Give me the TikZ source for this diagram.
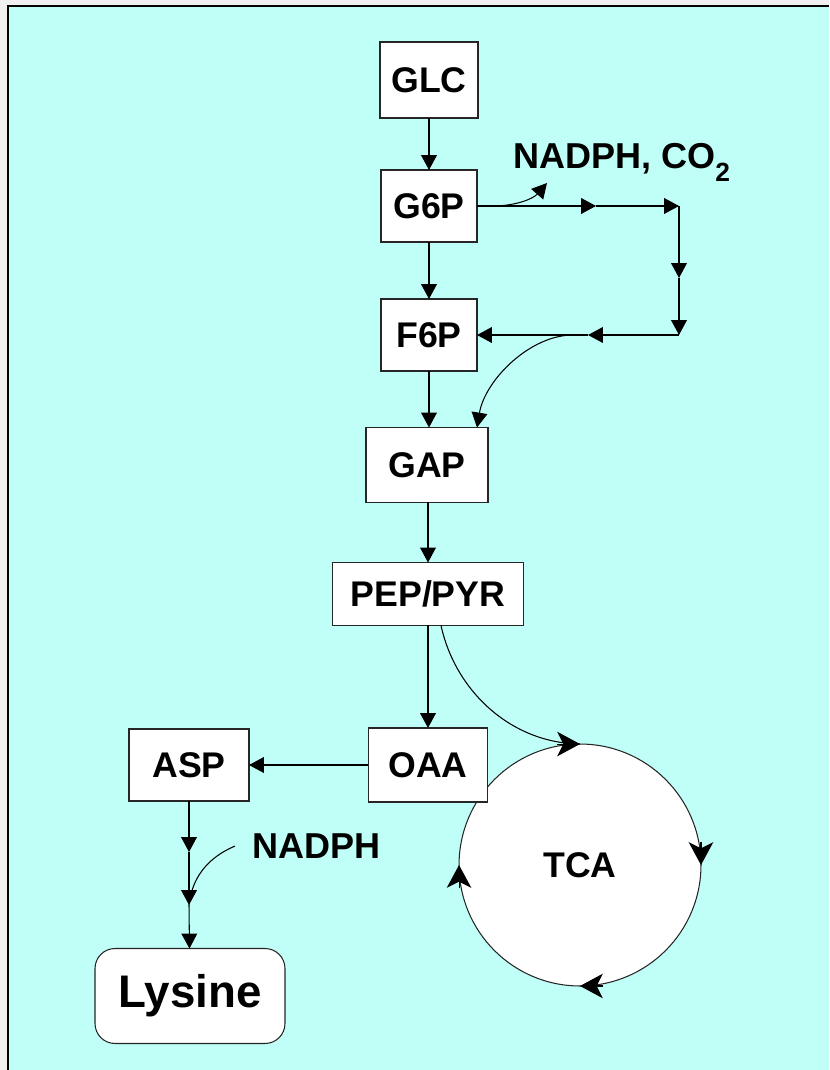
\documentclass[tikz,border=0pt]{standalone}
\usepackage{fontspec}
\setmainfont{Liberation Sans}
\usetikzlibrary{arrows.meta}
\definecolor{bgcyan}{RGB}{191,255,247}
\tikzset{
  met/.style={draw=black!85, fill=white, line width=0.6pt, inner sep=0pt, outer sep=0pt,
              font=\fontsize{20.3}{24}\selectfont\bfseries},
  prod/.style={met, rounded corners=0.4cm, font=\fontsize{26}{30}\selectfont\bfseries},
  cyc/.style={circle, met, minimum size=4.84cm},
  flux/.style={line width=0.6pt, -{Triangle[length=8.5pt,width=9pt]}},
  turn/.style={line width=0.6pt, -{Stealth[length=13pt,width=14pt,inset=3.5pt]}},
  side/.style={line width=0.6pt},
  lab/.style={font=\fontsize{20.5}{24}\selectfont\bfseries, inner sep=0pt},
}

\begin{document}
\begin{tikzpicture}[x=0.02cm,y=-0.02cm]
  % frame
  \useasboundingbox (0,0) rectangle (829,1070);
  \fill[black!6] (0,0) rectangle (829,1070);
  \fill[bgcyan] (8,6) rectangle (829,1070);
  \draw[line width=1.5pt] (8,1070) -- (8,6) -- (829,6);

  % metabolites
  \node[met, minimum width=1.96cm, minimum height=1.52cm] (glc) at (429,80) {GLC};
  \node[met, minimum width=1.92cm, minimum height=1.44cm] (g6p) at (429,206) {G6P};
  \node[met, minimum width=1.92cm, minimum height=1.44cm] (f6p) at (429,335) {F6P};
  \node[met, minimum width=2.44cm, minimum height=1.50cm] (gap) at (427,465) {GAP};
  \node[met, minimum width=3.82cm, minimum height=1.26cm] (pep) at (428,594) {PEP/PYR};
  \node[cyc] (tca) at (580,865) {TCA};
  \node[met, minimum width=2.38cm, minimum height=1.48cm] (oaa) at (428,765) {OAA};
  \node[met, minimum width=2.40cm, minimum height=1.44cm] (asp) at (189,765) {ASP};
  \node[prod, minimum width=3.80cm, minimum height=1.90cm] (lys) at (190,996) {Lysine};

  \node[lab, anchor=base west] (nadphco) at (513,169)
    {NADPH, CO\raisebox{-0.34em}{\fontsize{15}{15}\selectfont 2}};
  \node[lab, anchor=base west] (nadph) at (252,858) {NADPH};

  % glycolysis
  \draw[flux] (glc) -- (g6p);
  \draw[flux] (g6p) -- (f6p);
  \draw[flux] (f6p.south) -- (f6p.south |- gap.north);
  \draw[flux] (gap.south -| pep.north) -- (pep);
  \draw[flux] (pep) -- (oaa);
  \draw[flux] (oaa) -- (asp);

  % pentose phosphate loop
  \coordinate (ox) at (493,206);
  \coordinate (m1) at (596,206);
  \coordinate (c1) at (679,206);
  \coordinate (m2) at (679,278);
  \coordinate (c2) at (679,335);
  \coordinate (m3) at (588,335);
  \coordinate (br) at (573,335);
  \draw[flux] (g6p.east) -- (m1);
  \draw[flux] (m1) -- (c1);
  \draw[flux] (c1) -- (m2);
  \draw[flux] (m2) -- (c2);
  \draw[flux] (c2) -- (m3);
  \draw[flux] (m3) -- (f6p.east);
  \draw[flux] (ox) .. controls (515,206) and (533,199) .. (547,183);
  \draw[flux] (br) .. controls (530,335) and (485,380) .. ([xshift=-0.22cm]gap.north east);

  % TCA cycle
  \draw[side] ([xshift=0.26cm]pep.south) .. controls (455,690) and (510,743) .. (tca.north);
  \draw[turn] ([xshift=-0.46cm]tca.north) -- (tca.north);
  \draw[turn] ([yshift=0.46cm]tca.east) -- (tca.east);
  \draw[turn] ([xshift=0.46cm]tca.south) -- (tca.south);
  \draw[turn] ([yshift=-0.46cm]tca.west) -- (tca.west);
  \node[met, minimum width=2.38cm, minimum height=1.48cm] at (oaa) {OAA};

  % lysine branch
  \coordinate (a1) at (189,852);
  \coordinate (a2) at (189,905);
  \coordinate (nin) at (235,846);
  \draw[flux] (asp) -- (a1);
  \draw[flux] (a1) -- (a2);
  \draw[flux] (a2) -- (lys);
  \draw[side] (nin) .. controls (207,858) and (192,878) .. (a2);
\end{tikzpicture}
\end{document}
